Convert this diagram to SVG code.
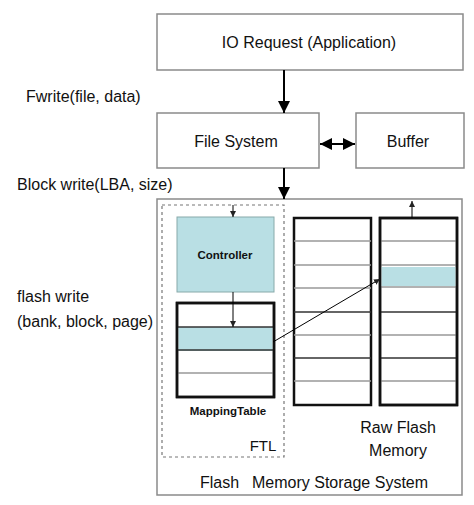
<svg xmlns="http://www.w3.org/2000/svg" width="474" height="505" viewBox="0 0 474 505">
<defs>
<marker id="big" viewBox="0 0 10 10" refX="10" refY="5" markerWidth="12" markerHeight="12" orient="auto-start-reverse" markerUnits="userSpaceOnUse"><path d="M0,0 L10,5 L0,10 z" fill="#000"/></marker>
<marker id="sm" viewBox="0 0 10 10" refX="10" refY="5" markerWidth="6" markerHeight="6" orient="auto" markerUnits="userSpaceOnUse"><path d="M0,0 L10,5 L0,10 z" fill="#222"/></marker>
</defs>
<style>
text{font-family:"Liberation Sans",Arial,sans-serif;fill:#111}
.box{fill:#fff;stroke:#8a8a8a;stroke-width:1.5}
.t16{font-size:16px}
.lbl{font-size:16px}
.col{fill:#fff;stroke:#111;stroke-width:2.5}
.blue{fill:#b9dfe4}
.rg{stroke:#999;stroke-width:1.5}
.rd{stroke:#333;stroke-width:1.5}
.conn{stroke:#000;fill:none}
</style>
<rect width="474" height="505" fill="#fff"/>

<g id="flash-storage-system">
<rect class="box" x="157" y="199" width="305" height="296"/>
<text class="t16" x="200" y="488">Flash</text>
<text class="t16" x="252" y="488">Memory Storage System</text>
</g>

<g id="ftl">
<rect x="162" y="205" width="122" height="252" fill="none" stroke="#777" stroke-width="1.2" stroke-dasharray="3,3"/>
<text x="263" y="451" font-size="15" text-anchor="middle">FTL</text>
</g>

<g id="io-request">
<rect class="box" x="157" y="14" width="306" height="56"/>
<text class="t16" x="309" y="48" text-anchor="middle">IO Request (Application)</text>
</g>

<g id="file-system">
<rect class="box" x="157" y="113" width="162" height="55"/>
<text class="t16" x="236" y="147" text-anchor="middle">File System</text>
</g>

<g id="buffer">
<rect class="box" x="356" y="113" width="108" height="55"/>
<text class="t16" x="408" y="147" text-anchor="middle">Buffer</text>
</g>

<g id="controller">
<rect x="177" y="217" width="97" height="75" fill="#b9dfe4" stroke="#8aa" stroke-width="1"/>
<text x="225" y="259" font-size="11.5" font-weight="bold" text-anchor="middle" fill="#2a3838">Controller</text>
</g>

<g id="mapping-table">
<rect class="col" x="177" y="303" width="97" height="94"/>
<rect class="blue" x="178.5" y="327" width="94" height="24"/>
<line class="rd" x1="177" y1="327" x2="274" y2="327"/>
<line class="rd" x1="177" y1="350" x2="274" y2="350"/>
<line class="rg" x1="177" y1="373" x2="274" y2="373"/>
<rect x="177" y="303" width="97" height="94" fill="none" stroke="#111" stroke-width="2.5"/>
<text x="228" y="415" font-size="11.5" font-weight="bold" text-anchor="middle" fill="#2a2a2a">MappingTable</text>
</g>

<g id="flash-block-1">
<rect class="col" x="294" y="218" width="77" height="187"/>
<line class="rg" x1="294" y1="241" x2="371" y2="241"/>
<line class="rg" x1="294" y1="265" x2="371" y2="265"/>
<line class="rg" x1="294" y1="288" x2="371" y2="288"/>
<line class="rd" x1="294" y1="312" x2="371" y2="312"/>
<line class="rg" x1="294" y1="335" x2="371" y2="335"/>
<line class="rd" x1="294" y1="358" x2="371" y2="358"/>
<line class="rg" x1="294" y1="381" x2="371" y2="381"/>
</g>

<g id="flash-block-2">
<rect class="col" x="380" y="218" width="77" height="187"/>
<rect class="blue" x="381.5" y="267" width="74" height="19"/>
<line class="rg" x1="380" y1="241" x2="457" y2="241"/>
<line class="rg" x1="380" y1="265" x2="457" y2="265"/>
<line class="rg" x1="380" y1="287" x2="457" y2="287"/>
<line class="rd" x1="380" y1="312" x2="457" y2="312"/>
<line class="rg" x1="380" y1="335" x2="457" y2="335"/>
<line class="rd" x1="380" y1="358" x2="457" y2="358"/>
<line class="rg" x1="380" y1="381" x2="457" y2="381"/>
<rect x="380" y="218" width="77" height="187" fill="none" stroke="#111" stroke-width="2.5"/>
</g>

<g id="raw-flash-label">
<text class="t16" x="398" y="433" text-anchor="middle">Raw Flash</text>
<text class="t16" x="398" y="456" text-anchor="middle">Memory</text>
</g>

<g id="labels">
<text class="lbl" x="26" y="102">Fwrite(file, data)</text>
<text class="lbl" x="17" y="190">Block write(LBA, size)</text>
<text class="lbl" x="17" y="302">flash write</text>
<text class="lbl" x="17" y="327">(bank, block, page)</text>
</g>

<g id="connectors">
<line class="conn" x1="284" y1="70" x2="284" y2="113" stroke-width="2" marker-end="url(#big)"/>
<line class="conn" x1="320" y1="144" x2="355" y2="144" stroke-width="2" marker-start="url(#big)" marker-end="url(#big)"/>
<line class="conn" x1="284" y1="168" x2="284" y2="199" stroke-width="2" marker-end="url(#big)"/>
<line class="conn" x1="233" y1="205" x2="233" y2="217" stroke-width="1" marker-end="url(#sm)"/>
<line class="conn" x1="233" y1="292" x2="233" y2="327" stroke-width="1" marker-end="url(#sm)"/>
<line class="conn" x1="273" y1="342" x2="380" y2="279" stroke-width="1" marker-end="url(#sm)"/>
<line class="conn" x1="412" y1="218" x2="412" y2="201" stroke-width="1" marker-end="url(#sm)"/>
</g>
</svg>
